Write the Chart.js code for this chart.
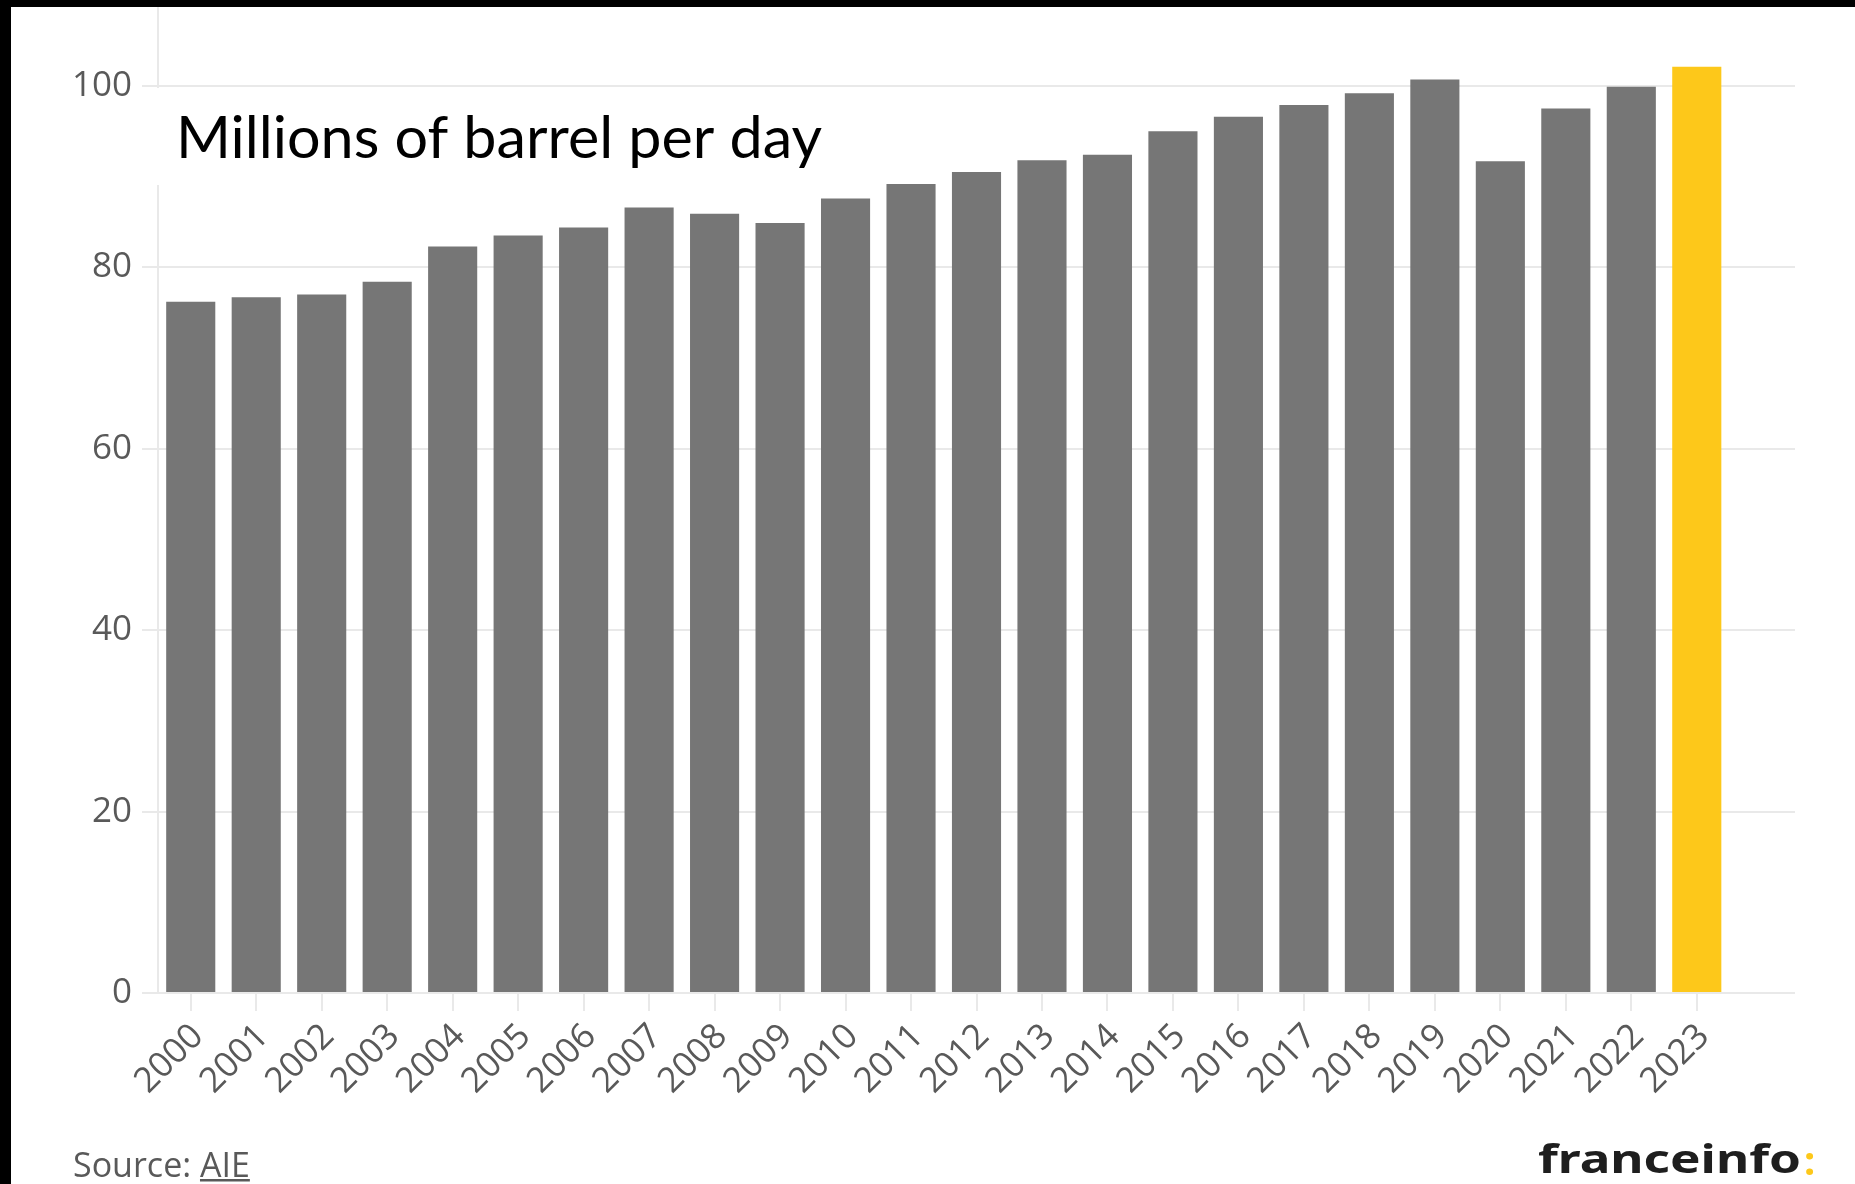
<!DOCTYPE html>
<html lang="en">
<head>
    <meta charset="UTF-8">
    <title>World oil demand</title>
    <style>
        html, body {
            margin: 0;
            padding: 0;
            background-color: #000;
            overflow: hidden;
        }

        .frame {
            position: absolute;
            left: 11px;
            top: 7px;
            width: 1844px;
            height: 1177px;
            background-color: #fff;
        }
    </style>
</head>
<body>
    <div class="frame">
        <canvas id="demand-chart"></canvas>
    </div>

    <script src="https://cdn.jsdelivr.net/npm/chart.js"></script>
    <script>
        // Oil demand, millions of barrels per day (source: AIE)
        const years = ['2000', '2001', '2002', '2003', '2004', '2005', '2006', '2007', '2008', '2009', '2010', '2011',
                       '2012', '2013', '2014', '2015', '2016', '2017', '2018', '2019', '2020', '2021', '2022', '2023'];
        const demand = [76.2, 76.7, 77.0, 78.4, 82.3, 83.5, 84.4, 86.6, 85.9, 84.9, 87.6, 89.2,
                        90.5, 91.8, 92.4, 95.0, 96.6, 97.9, 99.2, 100.7, 91.7, 97.5, 99.9, 102.1];
        const yTicks = [0, 20, 40, 60, 80, 100];
        const highlightYear = '2023';

        const GREY = '#767676';
        const YELLOW = '#fdc81a';
        const GRID = '#e9e9e9';
        const TEXT = '#595959';

        // stretch a string horizontally so it spans the given width
        function fitText(ctx, text, x, y, width) {
            const w = ctx.measureText(text).width;
            ctx.save();
            ctx.translate(x, y);
            ctx.scale(width / w, 1);
            ctx.fillText(text, 0, 0);
            ctx.restore();
        }

        // unit label panel, source line and logo
        const decorations = {
            id: 'decorations',
            afterDraw(chart) {
                const ctx = chart.ctx;
                ctx.save();
                ctx.textBaseline = 'alphabetic';
                ctx.textAlign = 'left';

                ctx.fillStyle = '#fff';
                ctx.fillRect(139, 81, 680, 97);
                ctx.fillStyle = '#000';
                ctx.font = '58px Lato';
                fitText(ctx, 'Millions of barrel per day', 165, 151, 646);

                ctx.fillStyle = TEXT;
                ctx.font = '34px "Open Sans"';
                const prefix = 'Source: ';
                ctx.fillText(prefix, 62, 1170);
                const px = 62 + ctx.measureText(prefix).width;
                const aw = ctx.measureText('AIE').width;
                ctx.fillText('AIE', px, 1170);
                ctx.fillRect(px, 1172, aw, 2.5);

                ctx.fillStyle = '#1e1e1e';
                ctx.font = 'bold 40px "Noto Sans"';
                fitText(ctx, 'franceinfo', 1527, 1166, 263);
                ctx.fillStyle = YELLOW;
                ctx.fillText(':', 1793, 1168);
                ctx.restore();
            }
        };

        const ctx = document.getElementById('demand-chart').getContext('2d');
        new Chart(ctx, {
            type: 'bar',
            data: {
                // one empty slot keeps a little room after the last year
                labels: years.concat(['']),
                datasets: [{
                    label: 'Oil demand',
                    data: demand,
                    backgroundColor: years.map(y => y === highlightYear ? YELLOW : GREY),
                    borderWidth: 0,
                    barPercentage: 0.75,
                    categoryPercentage: 1
                }]
            },
            options: {
                responsive: true,
                maintainAspectRatio: false,
                animation: false,
                layout: {
                    padding: { left: 0, right: 60, top: 0, bottom: 0 }
                },
                plugins: {
                    legend: { display: false },
                    tooltip: { enabled: false }
                },
                scales: {
                    x: {
                        offset: true,
                        grid: {
                            offset: false,
                            drawOnChartArea: false,
                            tickLength: 18,
                            lineWidth: 2,
                            color: c => c.index < years.length ? GRID : 'transparent'
                        },
                        border: { display: false },
                        ticks: {
                            autoSkip: false,
                            minRotation: 45,
                            maxRotation: 45,
                            padding: 5,
                            labelOffset: 7,
                            color: TEXT,
                            font: { family: '"Open Sans"', size: 35 }
                        },
                        afterFit: scale => { scale.height = 191; }
                    },
                    y: {
                        min: 0,
                        max: 108.7,
                        grid: {
                            color: GRID,
                            lineWidth: 2,
                            tickLength: 16
                        },
                        border: { display: true, color: GRID, width: 2 },
                        ticks: {
                            padding: 10,
                            color: TEXT,
                            font: { family: '"Open Sans"', size: 35 }
                        },
                        afterBuildTicks: scale => {
                            scale.ticks = yTicks.map(v => ({ value: v }));
                        },
                        afterFit: scale => {
                            scale.width = 147;
                            scale.paddingTop = 0;
                            scale.paddingBottom = 0;
                        }
                    }
                }
            },
            plugins: [decorations]
        });
    </script>
</body>
</html>
